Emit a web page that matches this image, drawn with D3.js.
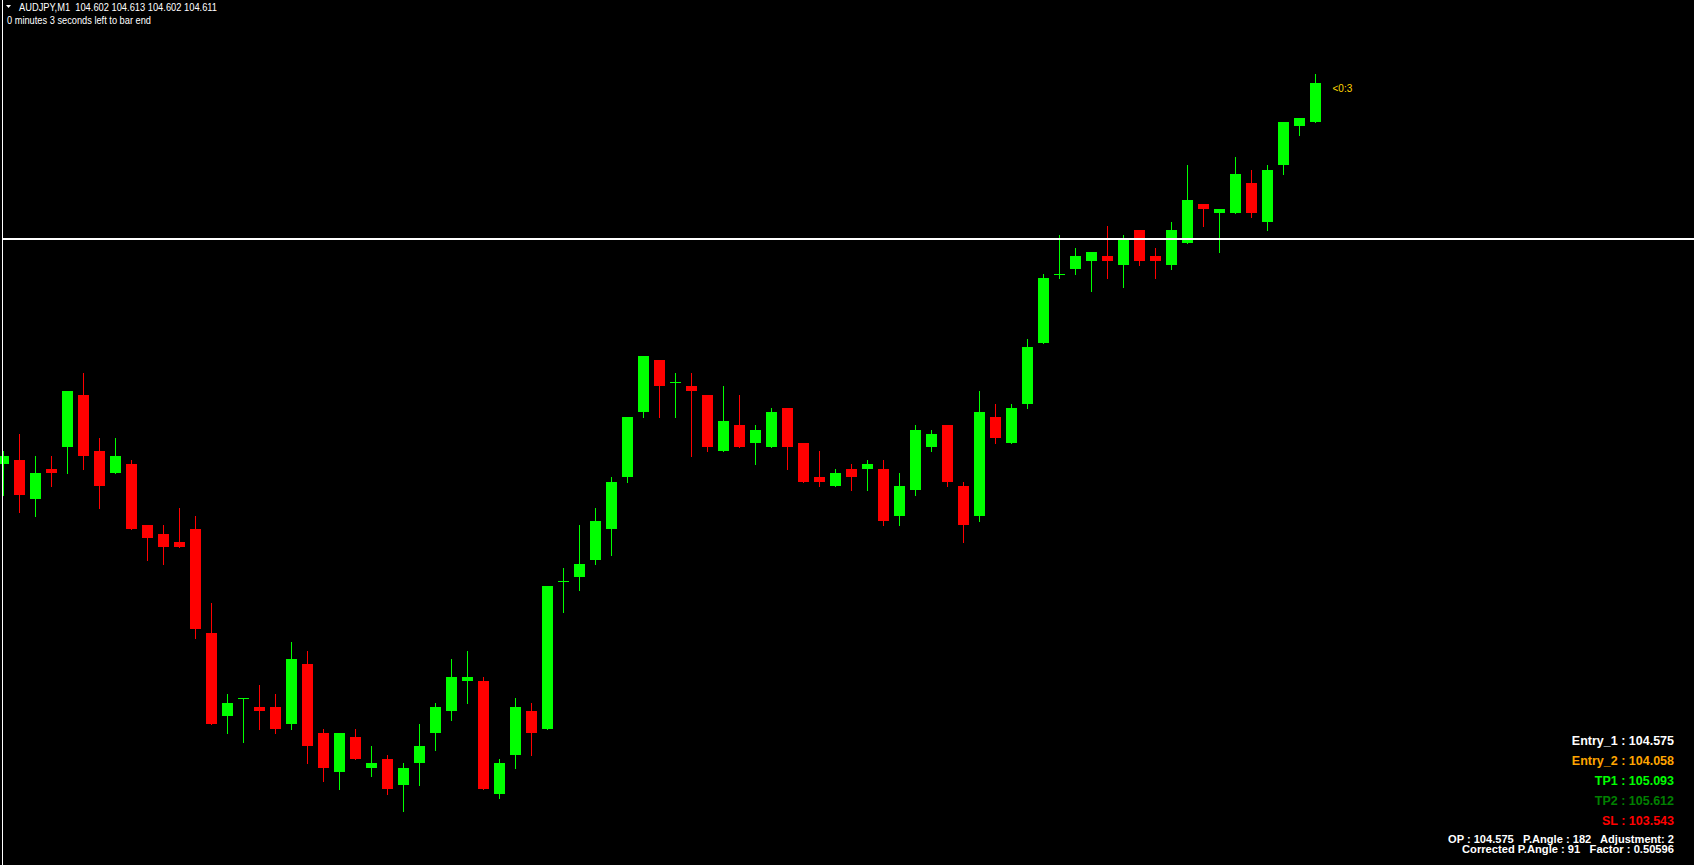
<!DOCTYPE html>
<html lang="en">
<head>
    <meta charset="UTF-8">
    <title>AUDJPY M1</title>
    <script src="https://cdn.jsdelivr.net/npm/d3@7"></script>
    <style>
        body { margin: 0; background: #000; overflow: hidden; }
        text { white-space: pre; }
    </style>
</head>
<body>
    <script>
        //width and height
        var w = 1694;
        var h = 865;

        //ohlc of the M1 bars, oldest first
        var opens = [104.523,104.524,104.515,104.522,104.527,104.539,104.526,104.521,104.523,104.509,
            104.507,104.505,104.508,104.484,104.465,104.469,104.467,104.467,104.463,104.477,
            104.461,104.452,104.460,104.453,104.455,104.449,104.454,104.461,104.466,104.473,
            104.473,104.447,104.456,104.466,104.462,104.496,104.497,104.501,104.508,104.520,
            104.535,104.547,104.542,104.541,104.539,104.526,104.532,104.528,104.527,104.536,
            104.528,104.520,104.518,104.522,104.522,104.522,104.511,104.517,104.527,104.532,
            104.518,104.511,104.534,104.528,104.537,104.551,104.567,104.568,104.570,104.571,
            104.569,104.577,104.571,104.569,104.574,104.583,104.581,104.581,104.588,104.579,
            104.592,104.601,104.602];
        var highs = [104.526,104.530,104.525,104.525,104.540,104.544,104.529,104.529,104.524,104.509,
            104.509,104.513,104.511,104.491,104.470,104.469,104.472,104.470,104.482,104.480,
            104.462,104.461,104.462,104.458,104.456,104.454,104.463,104.468,104.478,104.480,
            104.474,104.455,104.469,104.468,104.495,104.499,104.509,104.513,104.520,104.534,
            104.548,104.547,104.544,104.544,104.539,104.541,104.539,104.532,104.536,104.536,
            104.528,104.526,104.522,104.523,104.524,104.524,104.521,104.532,104.531,104.532,
            104.519,104.540,104.537,104.537,104.552,104.567,104.576,104.573,104.572,104.578,
            104.576,104.577,104.573,104.579,104.592,104.583,104.582,104.594,104.591,104.592,
            104.602,104.603,104.613];
        var lows = [104.516,104.512,104.511,104.518,104.521,104.522,104.513,104.521,104.508,104.501,
            104.500,104.504,104.483,104.463,104.461,104.459,104.462,104.461,104.462,104.454,
            104.450,104.448,104.455,104.451,104.447,104.443,104.449,104.457,104.464,104.468,
            104.448,104.446,104.453,104.456,104.462,104.489,104.494,104.500,104.502,104.519,
            104.534,104.534,104.534,104.525,104.526,104.526,104.527,104.523,104.527,104.522,
            104.519,104.518,104.518,104.517,104.517,104.509,104.509,104.516,104.526,104.518,
            104.505,104.510,104.528,104.528,104.536,104.551,104.566,104.567,104.563,104.566,
            104.564,104.569,104.566,104.568,104.574,104.578,104.572,104.581,104.580,104.577,
            104.590,104.599,104.602];
        var closes = [104.525,104.516,104.521,104.521,104.540,104.525,104.518,104.525,104.508,104.506,
            104.504,104.504,104.485,104.463,104.468,104.469,104.466,104.462,104.478,104.458,
            104.453,104.461,104.455,104.454,104.448,104.453,104.458,104.467,104.474,104.474,
            104.448,104.454,104.467,104.461,104.495,104.496,104.500,104.510,104.519,104.534,
            104.548,104.541,104.542,104.540,104.527,104.533,104.527,104.531,104.535,104.527,
            104.519,104.519,104.521,104.520,104.523,104.510,104.518,104.531,104.530,104.519,
            104.509,104.535,104.529,104.536,104.550,104.566,104.567,104.571,104.572,104.570,
            104.575,104.570,104.570,104.577,104.584,104.582,104.582,104.590,104.581,104.591,
            104.602,104.603,104.611];

        //header and info panel texts
        var symbolLine = 'AUDJPY,M1  104.602 104.613 104.602 104.611';
        var timerLine = '0 minutes 3 seconds left to bar end';
        var linePrice = 104.575;
        var timerTag = '<0:3';
        var levelLabels = ['Entry_1 : 104.575', 'Entry_2 : 104.058', 'TP1 : 105.093', 'TP2 : 105.612', 'SL : 103.543'];
        var levelColors = ['#ffffff', '#ffa500', '#00ff00', '#008000', '#ff0000'];
        var infoLines = ['OP : 104.575   P.Angle : 182   Adjustment: 2', 'Corrected P.Angle : 91   Factor : 0.50596'];

        var bars = opens.map(function(o, i) {
            return {i: i, o: o, h: highs[i], l: lows[i], c: closes[i]};
        });

        //xScale - one bar every 16px
        var xScale = d3.scaleLinear()
                        .domain([0, 82])
                        .range([3.5, 1315.5]);

        //yScale - 4.33px per point
        var yScale = d3.scaleLinear()
                        .domain([104.575, 104.611])
                        .range([239, 83]);

        //create svg
        var svg = d3.select('body')
                    .append('svg')
                    .attr('width', w)
                    .attr('height', h)
                    .style('display', 'block');

        svg.append('rect')
            .attr('width', w)
            .attr('height', h)
            .attr('fill', '#000');

        function col(d) {
            return d.c >= d.o ? '#00ff00' : '#ff0000';
        }

        //wicks
        svg.selectAll('rect.wick')
            .data(bars)
            .enter()
            .append('rect')
            .attr('class', 'wick')
            .attr('x', function(d) { return xScale(d.i) - 0.5; })
            .attr('y', function(d) { return Math.round(yScale(d.h)); })
            .attr('width', 1)
            .attr('height', function(d) {
                return Math.max(1, Math.round(yScale(d.l)) - Math.round(yScale(d.h)) + 1);
            })
            .attr('fill', col);

        //bodies
        svg.selectAll('rect.body')
            .data(bars)
            .enter()
            .append('rect')
            .attr('class', 'body')
            .attr('x', function(d) { return xScale(d.i) - 5.5; })
            .attr('y', function(d) { return Math.round(yScale(Math.max(d.o, d.c))); })
            .attr('width', 11)
            .attr('height', function(d) {
                return Math.max(1, Math.round(yScale(Math.min(d.o, d.c))) - Math.round(yScale(Math.max(d.o, d.c))));
            })
            .attr('fill', col);

        //left border
        svg.append('rect')
            .attr('x', 2)
            .attr('y', 0)
            .attr('width', 1)
            .attr('height', h)
            .attr('fill', '#ffffff');

        //horizontal price line
        svg.append('rect')
            .attr('x', 3)
            .attr('y', Math.round(yScale(linePrice)) - 1)
            .attr('width', w - 3)
            .attr('height', 2)
            .attr('fill', '#ffffff');

        //header
        svg.append('path')
            .attr('d', 'M6,5 L11,5 L8.5,8 Z')
            .attr('fill', '#ffffff');

        svg.append('text')
            .text(symbolLine)
            .attr('x', 19)
            .attr('y', 10.5)
            .attr('textLength', 198)
            .attr('lengthAdjust', 'spacingAndGlyphs')
            .attr('fill', '#ffffff')
            .attr('font-size', '10px')
            .attr('font-family', 'Liberation Sans, Arial, sans-serif');

        svg.append('text')
            .text(timerLine)
            .attr('x', 7)
            .attr('y', 24)
            .attr('textLength', 144)
            .attr('lengthAdjust', 'spacingAndGlyphs')
            .attr('fill', '#ffffff')
            .attr('font-size', '10px')
            .attr('font-family', 'Liberation Sans, Arial, sans-serif');

        //timer next to last bar
        var last = bars[bars.length - 1];
        svg.append('text')
            .text(timerTag)
            .attr('x', xScale(last.i) + 17)
            .attr('y', yScale(last.c) + 9)
            .attr('fill', '#ffd700')
            .attr('font-size', '10px')
            .attr('font-family', 'Liberation Sans, Arial, sans-serif');

        //level labels bottom right
        svg.selectAll('text.level')
            .data(levelLabels)
            .enter()
            .append('text')
            .attr('class', 'level')
            .text(function(d) { return d; })
            .attr('text-anchor', 'end')
            .attr('x', 1674)
            .attr('y', function(d, i) { return 745 + i * 20; })
            .attr('fill', function(d, i) { return levelColors[i]; })
            .attr('font-size', '12.5px')
            .attr('font-weight', 'bold')
            .attr('font-family', 'Liberation Sans, Arial, sans-serif');

        var infoWidths = [226, 212];
        svg.selectAll('text.info')
            .data(infoLines)
            .enter()
            .append('text')
            .attr('class', 'info')
            .text(function(d) { return d; })
            .attr('x', function(d, i) { return 1674 - infoWidths[i]; })
            .attr('y', function(d, i) { return 843 + i * 10; })
            .attr('textLength', function(d, i) { return infoWidths[i]; })
            .attr('lengthAdjust', 'spacingAndGlyphs')
            .attr('fill', '#ffffff')
            .attr('font-size', '10px')
            .attr('font-weight', 'bold')
            .attr('font-family', 'Liberation Sans, Arial, sans-serif');
    </script>
</body>
</html>
